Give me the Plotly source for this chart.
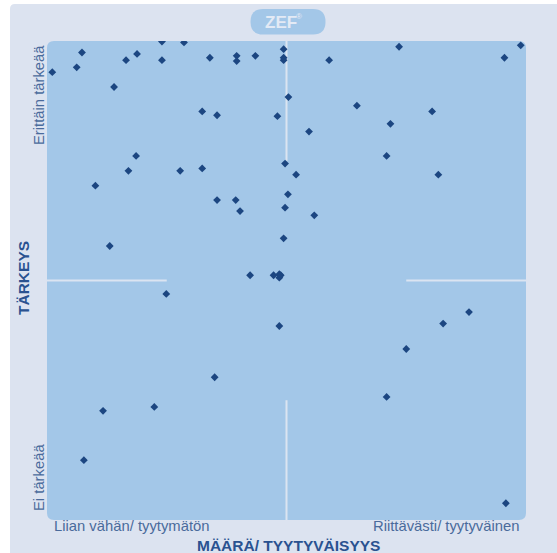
import plotly.graph_objects as go

# Satisfaction (x: 0 = "Liian vähän/ tyytymätön" .. 100 = "Riittävästi/ tyytyväinen")
satisfaction = [1.1, 6.2, 7.3, 14.0, 16.5, 18.8, 24.0, 24.0, 28.6, 34.0,
                39.6, 39.6, 43.5, 49.4, 49.4, 49.4, 50.4, 32.4, 35.5, 48.1,
                18.6, 49.7, 58.9, 73.5, 95.5, 98.9, 64.7, 80.4, 54.7, 71.7,
                70.9, 17.0, 10.1, 27.8, 32.4, 50.3, 35.5, 39.4, 40.3, 49.7,
                13.1, 49.4, 42.4, 47.3, 48.5, 48.5, 48.8, 52.0, 81.7, 55.8,
                24.9, 48.5, 35.0, 11.7, 22.4, 88.1, 82.7, 75.0, 70.9, 7.7,
                95.8]
# Importance (y: 0 = "Ei tärkeää" .. 100 = "Erittäin tärkeää")
importance = [93.5, 94.5, 97.6, 90.4, 96.0, 97.3, 99.9, 96.0, 99.7, 96.5,
              96.9, 95.8, 96.9, 98.3, 96.5, 96.0, 88.3, 85.3, 84.5, 84.3,
              76.0, 74.4, 96.0, 98.8, 96.5, 99.1, 86.5, 85.3, 81.1, 82.7,
              76.0, 72.9, 69.8, 72.9, 73.4, 68.0, 66.8, 66.8, 64.5, 65.2,
              57.2, 58.8, 51.1, 51.1, 51.3, 50.6, 51.1, 72.1, 72.1, 63.6,
              47.2, 40.5, 29.8, 22.8, 23.6, 43.4, 41.0, 35.7, 25.7, 12.5,
              3.5]

x_labels = ["Liian vähän/ tyytymätön", "Riittävästi/ tyytyväinen"]
y_labels = ["Ei tärkeää", "Erittäin tärkeää"]
x_title = "MÄÄRÄ/ TYYTYVÄISYYS"
y_title = "TÄRKEYS"

W, H = 557, 553
L, R, T, B = 47, 31, 41, 33
PW, PH = W - L - R, H - T - B

def px_x(p):
    return (p - L) / PW

def px_y(p):
    return (H - B - p) / PH

PANEL = "#dce3f0"
PLOT = "#a3c7e8"
LINE = "#dbe4f1"
LABEL = "#4a6b9c"
TITLE = "#2a5290"
FONT = "Liberation Sans, Arial, sans-serif"

def rounded_rect(x0, y0, x1, y1, rx, ry):
    return (f"M{x0+rx},{y0} L{x1-rx},{y0} Q{x1},{y0} {x1},{y0+ry} "
            f"L{x1},{y1-ry} Q{x1},{y1} {x1-rx},{y1} L{x0+rx},{y1} "
            f"Q{x0},{y1} {x0},{y1-ry} L{x0},{y0+ry} Q{x0},{y0} {x0+rx},{y0} Z")

fig = go.Figure()
fig.add_trace(go.Scatter(
    x=satisfaction, y=importance, mode="markers",
    marker=dict(symbol="diamond", size=6, color="#1c4681",
                line=dict(width=0)),
    hoverinfo="x+y", showlegend=False,
))

shapes = []
# outer panel
shapes.append(dict(type="path", xref="paper", yref="paper", layer="below",
                   path=rounded_rect(px_x(10), px_y(560), px_x(565), px_y(4),
                                     5 / PW, 5 / PH),
                   fillcolor=PANEL, line=dict(width=0)))
# plot area
shapes.append(dict(type="path", xref="paper", yref="paper", layer="below",
                   path=rounded_rect(0, 0, 1, 1, 7 / PW, 7 / PH),
                   fillcolor=PLOT, line=dict(width=0)))
# cross with a gap in the middle
for (x0, y0, x1, y1) in [(50, 75, 50, 100), (50, 0, 50, 25),
                         (0, 50, 25, 50), (75, 50, 100, 50)]:
    shapes.append(dict(type="line", xref="x", yref="y", layer="below",
                       x0=x0, y0=y0, x1=x1, y1=y1,
                       line=dict(color=LINE, width=2)))
# ZEF logo pill
shapes.append(dict(type="path", xref="paper", yref="paper", layer="below",
                   path=rounded_rect(px_x(250.5), px_y(34.5), px_x(325.5), px_y(9),
                                     12.5 / PW, 12.75 / PH),
                   fillcolor=PLOT, line=dict(width=0)))

annotations = [
    dict(text=y_labels[1], x=px_x(39), y=px_y(95), textangle=-90,
         font=dict(size=14.8, color=LABEL, family=FONT)),
    dict(text=y_labels[0], x=px_x(39), y=px_y(478), textangle=-90,
         font=dict(size=14.8, color=LABEL, family=FONT)),
    dict(text=f"<b>{y_title}</b>", x=px_x(23), y=px_y(278), textangle=-90,
         font=dict(size=15.5, color=TITLE, family=FONT)),
    dict(text=x_labels[0], x=px_x(52), y=px_y(526), xanchor="left",
         font=dict(size=14.8, color=LABEL, family=FONT)),
    dict(text=x_labels[1], x=px_x(521), y=px_y(526), xanchor="right",
         font=dict(size=14.8, color=LABEL, family=FONT)),
    dict(text=f"<b>{x_title}</b>", x=px_x(288), y=px_y(545), 
         font=dict(size=15.5, color=TITLE, family=FONT)),
    dict(text="<b>ZEF</b>", x=px_x(281), y=px_y(22.5),
         font=dict(size=17, color="#e3eaf5", family=FONT)),
    dict(text="®", x=px_x(298.5), y=px_y(16.5),
         font=dict(size=8, color="#e3eaf5", family=FONT)),
]
for a in annotations:
    a.update(xref="paper", yref="paper", showarrow=False)
    a.setdefault("xanchor", "center")
    a.setdefault("yanchor", "middle")

fig.update_layout(
    width=W, height=H, autosize=False,
    margin=dict(l=L, r=R, t=T, b=B, pad=0),
    paper_bgcolor="white", plot_bgcolor="rgba(0,0,0,0)",
    xaxis=dict(range=[0, 100], visible=False, fixedrange=True),
    yaxis=dict(range=[0, 100], visible=False, fixedrange=True),
    shapes=shapes, annotations=annotations,
    font=dict(family=FONT),
)

fig.write_html("out.html", config={"displayModeBar": False},
               post_script="document.body.style.margin='0';document.body.style.overflow='hidden';")
